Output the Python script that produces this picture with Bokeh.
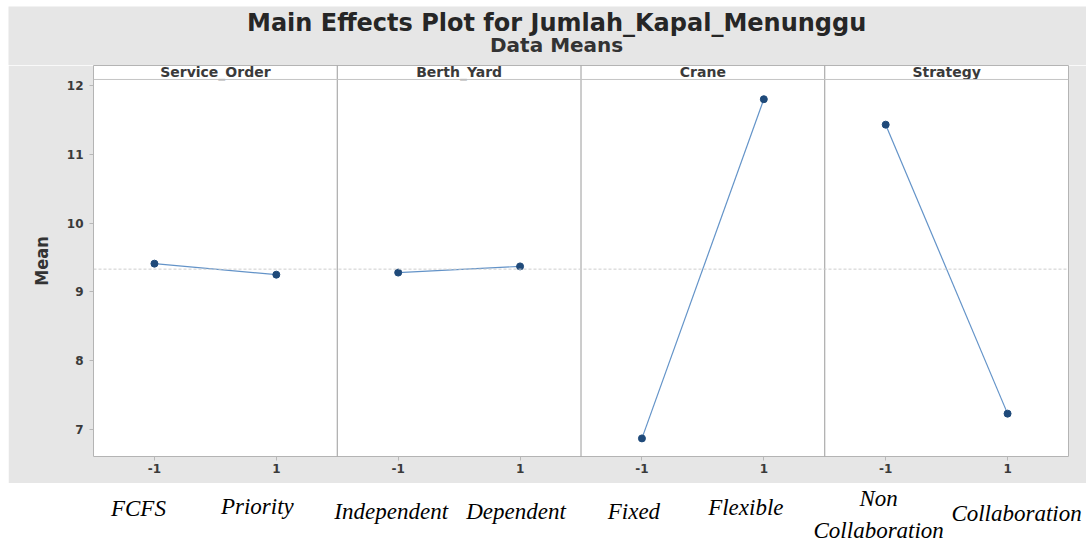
from bokeh.plotting import figure
from bokeh.layouts import column, row
from bokeh.models import Range1d, FixedTicker, Span, ColumnDataSource, Spacer
from bokeh.core.properties import value
from bokeh.embed import file_html
from bokeh.resources import INLINE

# ---------------- data ----------------
factors = ["Service_Order", "Berth_Yard", "Crane", "Strategy"]
levels = [-1, 1]
mean_low = [9.41, 9.28, 6.87, 11.43]     # mean at level -1
mean_high = [9.25, 9.37, 11.80, 7.23]    # mean at level 1
grand_mean = 9.33
level_names = ["FCFS", "Priority", "Independent", "Dependent",
               "Fixed", "Flexible", "Non\nCollaboration", "Collaboration"]
y_ticks = [7, 8, 9, 10, 11, 12]
title_text = "Main Effects Plot for Jumlah_Kapal_Menunggu"
subtitle_text = "Data Means"

# ---------------- layout / style ----------------
PANEL = 4.0
W = 1078
H_T, H_P, H_Q = 59, 418, 59
ML, MR, MB = 85, 18, 27
BG = "#e6e6e6"
FONT = "DejaVu Sans"
Y_LO, Y_HI, STRIP_BOTTOM = 6.607, 12.29, 12.087
TITLE_X = 7.6
label_dx = [-16, -19, -7, -4, -8, -18, -7, 9]
label_y = [25, 23, 28, 28, 28, 24, 31, 30]

NX = PANEL * len(factors)
xr = Range1d(0, NX)
yr = Range1d(Y_LO, Y_HI)
# same data->pixel mapping as the main plot, but spanning the full width
upp = NX / (W - ML - MR)
xr_full = Range1d(-ML * upp, NX + MR * upp)

base = dict(output_backend="svg", toolbar_location=None, tools="")

# ---- title band ----
t = figure(width=W, height=H_T, x_range=xr_full, y_range=Range1d(H_T, 0),
           x_axis_location=None, y_axis_location=None, min_border=0,
           outline_line_color=None, background_fill_color=BG,
           border_fill_color=BG, **base)
t.frame_align = False
t.grid.visible = False
t.text(x=[TITLE_X], y=[16], text=[title_text], text_font=value(FONT),
       text_font_size="24px", text_font_style="bold", text_color="#262626",
       text_align="center", text_baseline="middle")
t.text(x=[TITLE_X], y=[38], text=[subtitle_text], text_font=value(FONT),
       text_font_size="20px", text_font_style="bold", text_color="#333333",
       text_align="center", text_baseline="middle")

# ---- main plot ----
p = figure(width=W, height=H_P, x_range=xr, y_range=yr,
           min_border_left=ML, min_border_right=MR,
           min_border_top=0, min_border_bottom=MB,
           background_fill_color="white", border_fill_color=BG,
           outline_line_color="#b4b4b4", **base)
p.grid.visible = False

centers = [(i + 0.5) * PANEL for i in range(len(factors))]

for i in range(1, len(factors)):
    p.add_layout(Span(location=i * PANEL, dimension="height",
                      line_color="#9a9a9a", line_width=1))
p.add_layout(Span(location=STRIP_BOTTOM, dimension="width",
                  line_color="#c4c4c4", line_width=1))
p.add_layout(Span(location=grand_mean, dimension="width",
                  line_color="#cdcdcd", line_width=1, line_dash="3 2"))

p.text(x=centers, y=[(STRIP_BOTTOM + Y_HI) / 2] * len(factors), text=factors,
       text_font=value(FONT), text_font_size="14px", text_font_style="bold",
       text_color="#3a3a3a", text_align="center", text_baseline="middle")

xs, ys = [], []
for c, lo, hi in zip(centers, mean_low, mean_high):
    lx = [c + levels[0], c + levels[1]]
    ly = [lo, hi]
    p.line(lx, ly, line_color="#6393c8", line_width=1.2)
    xs += lx
    ys += ly
p.scatter(xs, ys, size=7, fill_color="#1f4a7a", line_color="#1f4a7a")

ticks_x = [int(c + l) for c in centers for l in levels]
p.xaxis.ticker = FixedTicker(ticks=ticks_x)
p.xaxis.major_label_overrides = {int(c + l): str(l) for c in centers for l in levels}
p.yaxis.ticker = FixedTicker(ticks=y_ticks)
for ax in (p.xaxis[0], p.yaxis[0]):
    ax.axis_line_color = None
    ax.major_tick_line_color = "#b8b8b8"
    ax.major_tick_out = 4
    ax.major_tick_in = 0
    ax.minor_tick_line_color = None
    ax.major_label_text_font = FONT
    ax.major_label_text_font_size = "12px"
    ax.major_label_text_font_style = "bold"
    ax.major_label_text_color = "#3a3a3a"
p.xaxis.major_label_standoff = 3
p.yaxis.major_label_standoff = 6
p.yaxis.axis_label = "Mean"
p.yaxis.axis_label_text_font = "Liberation Sans Narrow, DejaVu Sans Condensed, Roboto Condensed, Roboto"
p.yaxis.axis_label_text_font_size = "18px"
p.yaxis.axis_label_text_font_style = "bold"
p.yaxis.axis_label_text_color = "#333333"
p.yaxis.axis_label_standoff = 12

# ---- level names under the chart ----
q = figure(width=W, height=H_Q, x_range=xr_full, y_range=Range1d(H_Q, 0),
           x_axis_location=None, y_axis_location=None, min_border=0,
           outline_line_color=None, background_fill_color="white",
           border_fill_color="white", **base)
q.frame_align = False
q.grid.visible = False
src = ColumnDataSource(dict(x=ticks_x, y=label_y, text=level_names, dx=label_dx))
q.text(x="x", y="y", text="text", x_offset="dx", source=src,
       text_font=value("Liberation Serif"), text_font_style="italic",
       text_font_size="23px", text_color="black", text_align="center",
       text_baseline="middle", text_line_height=1.25)

layout = row(Spacer(width=8, height=10),
             column(Spacer(width=10, height=6), t, p, q, spacing=0),
             spacing=0)
open("out.html", "w").write(file_html(layout, INLINE))
